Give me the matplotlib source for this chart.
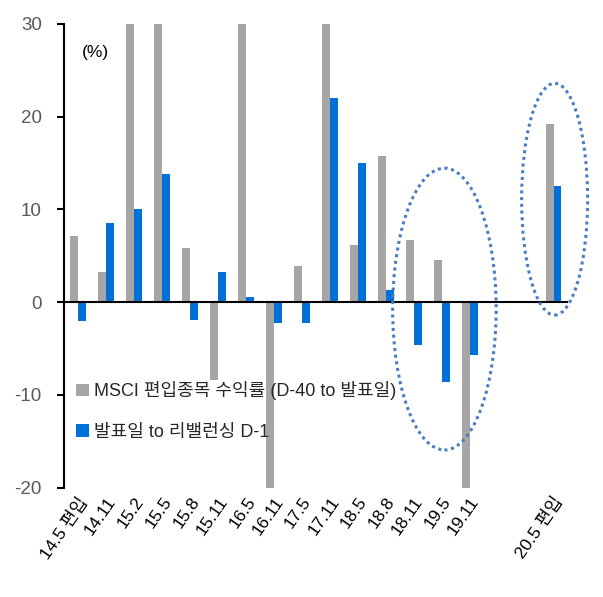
import matplotlib
matplotlib.use("Agg")
import matplotlib.pyplot as plt
from matplotlib.patches import Ellipse
import numpy as np

plt.rcParams['font.family'] = ['Liberation Sans', 'Noto Sans CJK KR', 'DejaVu Sans']

categories = ['14.5 편입', '14.11', '15.2', '15.5', '15.8', '15.11', '16.5', '16.11',
              '17.5', '17.11', '18.5', '18.8', '18.11', '19.5', '19.11', '', '', '20.5 편입']
msci_ret = [7.1, 3.2, 36.0, 38.0, 5.8, -8.4, 34.0, -24.0,
            3.9, 33.0, 6.2, 15.8, 6.7, 4.5, -23.0, np.nan, np.nan, 19.2]
rebal_ret = [-2.0, 8.5, 10.0, 13.8, -1.9, 3.2, 0.5, -2.3,
             -2.3, 22.0, 15.0, 1.3, -4.6, -8.6, -5.7, np.nan, np.nan, 12.5]
label_gray = 'MSCI 편입종목 수익률 (D-40 to 발표일)'
label_blue = '발표일 to 리밸런싱 D-1'
yticks = [-20, -10, 0, 10, 20, 30]

fig = plt.figure(figsize=(6.03, 5.97), dpi=100)
ax = fig.add_axes([64/603, 109.5/597, (567.5-64)/603, (573-109.5)/597])

x = np.arange(len(categories))
w = 0.285
ax.bar(x - w/2, msci_ret, width=w, color='#A6A6A6', label=label_gray)
ax.bar(x + w/2, rebal_ret, width=w, color='#0070DA', label=label_blue)

ax.set_xlim(-0.5, len(categories) - 0.5)
ax.set_ylim(-20, 30)
ax.set_yticks(yticks)
ax.set_yticklabels([str(t) for t in yticks], fontsize=13.5, color='#595959')
ax.tick_params(axis='y', direction='out', length=5, width=1.5, color='black', pad=11)

ax.set_xticks(x)
ax.set_xticklabels(categories, rotation=55, ha='right', rotation_mode='anchor',
                   fontsize=12.5, color='black')
ax.tick_params(axis='x', length=0, pad=5)

for s in ['top', 'right', 'bottom']:
    ax.spines[s].set_visible(False)
ax.spines['left'].set_linewidth(1.5)
ax.axhline(0, color='black', lw=1.5, zorder=3)

ax.text(0.035, 0.955, '(%)', transform=ax.transAxes, fontsize=12.5, va='top', ha='left')

# dotted ellipses highlighting
e1 = Ellipse((13.1, -0.75), 3.7, 30.4, fill=False, edgecolor='#4A7CC4', lw=2.2,
             linestyle=(0, (1, 1.2)), clip_on=False, zorder=4)
e2 = Ellipse((17.04, 11.1), 2.36, 25.0, fill=False, edgecolor='#4A7CC4', lw=2.2,
             linestyle=(0, (1, 1.2)), clip_on=False, zorder=4)
ax.add_patch(e1)
ax.add_patch(e2)

leg = ax.legend(loc='upper left', bbox_to_anchor=(0.01, 0.245), frameon=False,
                fontsize=13, handlelength=0.7, handleheight=0.7, handletextpad=0.3,
                labelspacing=1.3, borderaxespad=0)
for t in leg.get_texts():
    t.set_color('#262626')

fig.savefig('out.png', dpi=100)
